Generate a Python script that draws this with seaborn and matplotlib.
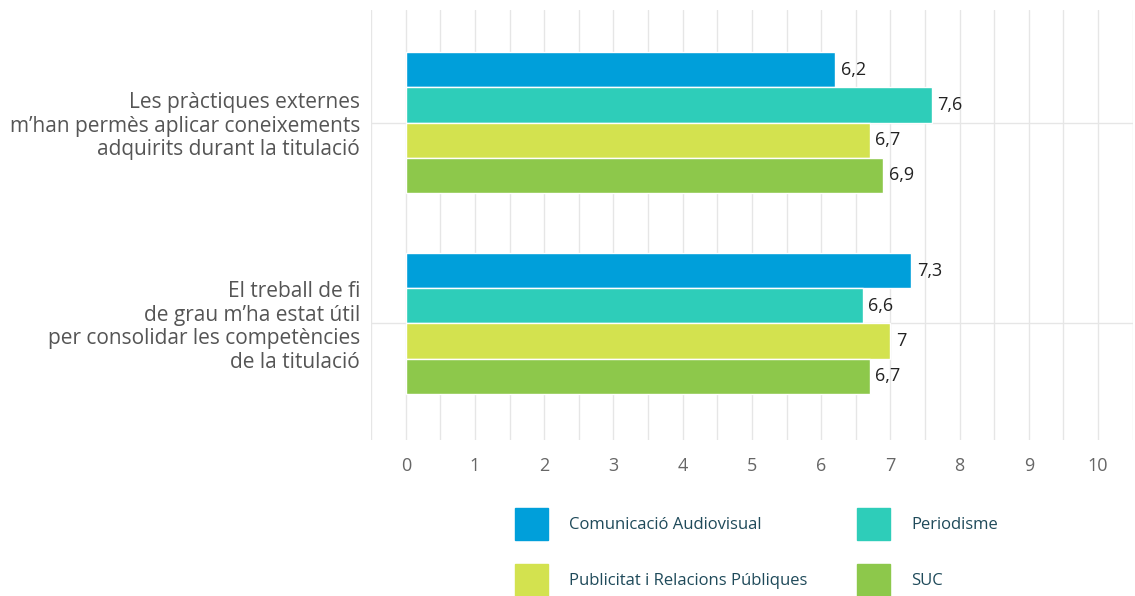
import pandas as pd
import seaborn as sns
import matplotlib.pyplot as plt
from matplotlib.ticker import MultipleLocator

preguntes = ["Les pràctiques externes\nm’han permès aplicar coneixements\nadquirits durant la titulació",
             "El treball de fi\nde grau m’ha estat útil\nper consolidar les competències\nde la titulació"]
titulacions = ["Comunicació Audiovisual", "Periodisme",
               "Publicitat i Relacions Públiques", "SUC"]
valors_practiques = [6.2, 7.6, 6.7, 6.9]
valors_tfg = [7.3, 6.6, 7.0, 6.7]
colors = ["#009fda", "#2ecdb9", "#d3e24f", "#8dc84b"]

rows = []
for t, v in zip(titulacions, valors_practiques):
    rows.append({"pregunta": preguntes[0], "titulacio": t, "valor": v})
for t, v in zip(titulacions, valors_tfg):
    rows.append({"pregunta": preguntes[1], "titulacio": t, "valor": v})
df = pd.DataFrame(rows)

sns.set_style("white")
plt.rcParams['font.family'] = ['Open Sans', 'DejaVu Sans']

fig = plt.figure(figsize=(11.35, 5.96), dpi=100)
ax = fig.add_axes([0.327, 0.262, 0.671, 0.721])

sns.barplot(data=df, y="pregunta", x="valor", hue="titulacio",
            hue_order=titulacions, palette=colors, orient="h",
            width=0.7, errorbar=None, ax=ax, legend=False, saturation=1)

for cont in ax.containers:
    ax.bar_label(cont, fmt=lambda v: f"{v:g}".replace(".", ","),
                 padding=4, fontsize=13, color="#222222")

ax.set_xlim(-0.5, 10.5)
ax.set_ylim(1.58, -0.56)
ax.xaxis.set_minor_locator(MultipleLocator(0.5))
ax.set_xticks(range(0, 11))
ax.grid(True, which="both", axis="x", color="#e6e6e6", lw=1)
ax.grid(True, which="major", axis="y", color="#e6e6e6", lw=1)
ax.set_axisbelow(True)
for s in ax.spines.values():
    s.set_visible(False)
ax.tick_params(axis="x", which="both", length=0, pad=12, labelsize=13, labelcolor="#666666")
ax.tick_params(axis="y", length=0, pad=8, labelsize=15, labelcolor="#555555")
for lab in ax.get_yticklabels():
    lab.set_horizontalalignment("right")
    lab.set_multialignment("right")
    lab.set_linespacing(1.15)
ax.set_xlabel("")
ax.set_ylabel("")

# column-major order so rows read: CA, Periodisme / PRP, SUC
order = [0, 2, 1, 3]
handles = [plt.Rectangle((0, 0), 1, 1, color=colors[i]) for i in order]
labels = [titulacions[i] for i in order]
fig.legend(handles, labels, ncol=2, loc="upper left",
           bbox_to_anchor=(0.4537, 0.148), frameon=False, fontsize=12,
           handlelength=1.98, handleheight=2.6, handletextpad=1.26,
           columnspacing=3.0, labelspacing=1.45, borderpad=0, borderaxespad=0,
           labelcolor="#1f4a5a")

plt.savefig("out.png", dpi=100)
